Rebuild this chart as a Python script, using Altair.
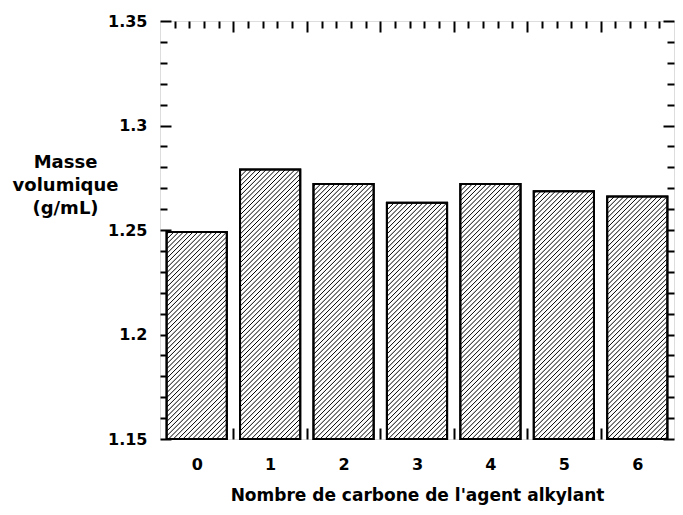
import altair as alt
import pandas as pd

# ---- data ----
categories = [0, 1, 2, 3, 4, 5, 6]
densities = [1.249, 1.279, 1.272, 1.263, 1.272, 1.2685, 1.266]

y_major = [1.15, 1.2, 1.25, 1.3, 1.35]
y_minor = [round(1.15 + 0.01 * k, 2) for k in range(1, 20) if k % 5]
x_major = [0.5, 1.5, 2.5, 3.5, 4.5, 5.5]
x_minor = [round(-0.5 + 0.2 * k, 1) for k in range(1, 35) if k % 5]

x_title = "Nombre de carbone de l'agent alkylant"
y_title = ["Masse", "volumique", "(g/mL)"]

# ---- layout / style ----
W, H = 514, 418
X0, X1 = -0.5, 6.5
Y0, Y1 = 1.15, 1.35
HALF = 0.41
HATCH_STEP = 4.8  # px, horizontal period of the hatching
FONT = "DejaVu Sans"

kx = W / (X1 - X0)
ky = H / (Y1 - Y0)

bars = pd.DataFrame({
    "cat": categories,
    "value": densities,
})
bars["lo"] = bars["cat"] - HALF
bars["hi"] = bars["cat"] + HALF
bars["base"] = Y0

# hatch segments derived from the bar rectangles ("/" at 45 degrees on screen)
rows = []
for c_, v in zip(categories, densities):
    wb = 2 * HALF * kx
    hb = (v - Y0) * ky
    c = -hb + HATCH_STEP / 2
    while c < wb:
        u0 = max(0.0, c)
        u1 = min(wb, hb + c)
        if u1 > u0:
            rows.append({
                "x1": c_ - HALF + u0 / kx, "y1": Y0 + (u0 - c) / ky,
                "x2": c_ - HALF + u1 / kx, "y2": Y0 + (u1 - c) / ky,
            })
        c += HATCH_STEP
hatch = pd.DataFrame(rows)

xs = alt.Scale(domain=[X0, X1], nice=False, zero=False)
ys = alt.Scale(domain=[Y0, Y1], nice=False, zero=False)

tick_common = dict(labels=False, domain=False, title=None, grid=False,
                   tickColor="black", tickWidth=2)


def tick_axis(orient, offset, values, size):
    return alt.Axis(orient=orient, offset=offset, values=values,
                    tickSize=size, **tick_common)


MAJ, MIN = 11, 7

# layer 1: white bars + label axes
layer_bars = alt.Chart(bars).mark_rect(fill="white", stroke="black", strokeWidth=2).encode(
    x=alt.X("lo:Q", scale=xs, axis=alt.Axis(
        orient="bottom", values=categories, ticks=False, tickSize=0, domain=False,
        grid=False, labelPadding=17, labelFlush=False, labelFontSize=16,
        labelFont=FONT, labelFontWeight="bold", labelColor="black",
        title=x_title, titleFont=FONT, titleFontSize=17, titleFontWeight="bold",
        titleColor="black", titleY=48, titleBaseline="top")),
    x2="hi:Q",
    y=alt.Y("value:Q", scale=ys, axis=alt.Axis(
        orient="left", values=y_major, ticks=False, tickSize=0, domain=False,
        grid=False, labelPadding=13, labelFontSize=16, labelFont=FONT,
        labelFontWeight="bold", labelColor="black", format="~g",
        title=y_title, titleAngle=0, titleAlign="center", titleBaseline="top",
        titleX=-95, titleY=132, titleFont=FONT, titleFontSize=18,
        titleFontWeight="bold", titleColor="black", titleLineHeight=23)),
    y2="base:Q",
)

# layer 2: hatching + inward minor ticks (bottom, left)
layer_hatch = alt.Chart(hatch).mark_rule(color="black", strokeWidth=1).encode(
    x=alt.X("x1:Q", scale=xs, axis=tick_axis("top", -H, x_minor, MIN)),
    x2="x2:Q",
    y=alt.Y("y1:Q", scale=ys, axis=tick_axis("right", -W, y_minor, MIN)),
    y2="y2:Q",
)

# layer 3: bar outlines + inward major ticks (bottom, left)
layer_outline = alt.Chart(bars).mark_rect(fill=None, stroke="black", strokeWidth=2, fillOpacity=0).encode(
    x=alt.X("lo:Q", scale=xs, axis=tick_axis("top", -H, x_major, MAJ)),
    x2="hi:Q",
    y=alt.Y("value:Q", scale=ys, axis=tick_axis("right", -W, y_major, MAJ)),
    y2="base:Q",
)

# layers 4-5: invisible carriers for inward ticks on top and right edges
layer_t1 = alt.Chart(bars).mark_rect(opacity=0).encode(
    x=alt.X("lo:Q", scale=xs, axis=tick_axis("bottom", -H, x_minor, MIN)),
    x2="hi:Q",
    y=alt.Y("value:Q", scale=ys, axis=tick_axis("left", -W, y_minor, MIN)),
    y2="base:Q",
)
layer_t2 = alt.Chart(bars).mark_rect(opacity=0).encode(
    x=alt.X("lo:Q", scale=xs, axis=tick_axis("bottom", -H, x_major, MAJ)),
    x2="hi:Q",
    y=alt.Y("value:Q", scale=ys, axis=tick_axis("left", -W, y_major, MAJ)),
    y2="base:Q",
)

chart = alt.layer(layer_bars, layer_hatch, layer_outline, layer_t1, layer_t2).resolve_axis(
    x="independent", y="independent"
).properties(
    width=W, height=H,
    autosize=alt.AutoSizeParams(type="none"),
    padding={"left": 152, "top": 13, "right": 1, "bottom": 66},
).configure_view(stroke="black", strokeWidth=2).configure(background="white")

chart.save("out.html", embed_options={"renderer": "svg", "actions": False})
